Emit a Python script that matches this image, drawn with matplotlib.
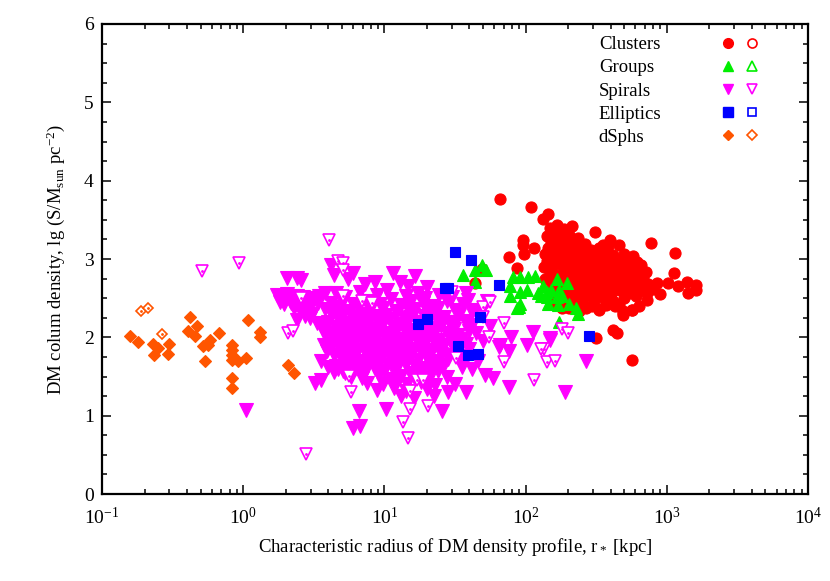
import numpy as np
import matplotlib
matplotlib.use("Agg")
import matplotlib.pyplot as plt
from matplotlib.lines import Line2D
from matplotlib.legend_handler import HandlerTuple
from matplotlib.ticker import MultipleLocator, LogLocator, NullFormatter

plt.rcParams['font.family'] = ['Liberation Serif', 'DejaVu Serif']
plt.rcParams['mathtext.fontset'] = 'custom'
plt.rcParams['mathtext.rm'] = 'Liberation Serif'
plt.rcParams['mathtext.it'] = 'Liberation Serif:italic'

# ---- data: lg(r*/kpc) and lg(S / Msun pc^-2) ----
# clusters (filled)
clu_lgr = [2.17, 2.22, 2.27, 2.33,
           2.15, 2.20, 2.26, 2.31, 2.37, 2.49,
           2.18, 2.24, 2.30, 2.36, 2.42, 2.55, 2.60,
           2.16, 2.21, 2.27, 2.34, 2.40, 2.46, 2.52, 2.58, 2.66,
           2.14, 2.19, 2.25, 2.31, 2.37, 2.43, 2.49, 2.55, 2.62, 2.70, 2.76,
           2.15, 2.22, 2.28, 2.34, 2.40, 2.47, 2.53, 2.59, 2.65, 2.72, 2.79,
           2.13, 2.19, 2.26, 2.32, 2.38, 2.44, 2.51, 2.57, 2.63, 2.69, 2.76, 2.82,
           2.17, 2.24, 2.30, 2.36, 2.42, 2.48, 2.54, 2.61, 2.67, 2.73, 2.79, 2.85,
           2.14, 2.21, 2.28, 2.34, 2.40, 2.46, 2.52, 2.58, 2.64, 2.70, 2.77, 2.83,
           2.19, 2.26, 2.32, 2.38, 2.44, 2.50, 2.56, 2.62, 2.68, 2.74, 2.81, 2.87,
           2.23, 2.30, 2.37, 2.43, 2.49, 2.55, 2.61, 2.67, 2.73, 2.80,
           2.27, 2.34, 2.41, 2.48, 2.55, 2.62, 2.70, 2.78,
           2.33, 2.40, 2.47, 2.57, 2.66,
           2.38, 2.52, 2.69, 2.75,
           1.82, 2.04, 2.16, 2.12, 1.98, 1.98, 2.06, 1.99, 1.88, 1.94, 1.69, 1.64,
           2.21, 2.20, 2.17, 2.34, 2.38, 2.31, 2.43, 2.26,
           2.50, 2.62, 2.65, 2.75,
           2.95, 3.01, 3.05, 3.08, 3.14, 3.21, 3.21, 3.15, 3.06, 2.89, 2.86, 2.86,
           2.90, 2.93, 2.80, 2.75, 2.69, 2.63, 2.57, 2.52, 2.69, 2.49]
clu_lgs = [3.40, 3.44, 3.38, 3.42,
           3.30, 3.33, 3.28, 3.31, 3.27, 3.35,
           3.22, 3.20, 3.24, 3.21, 3.19, 3.18, 3.24,
           3.14, 3.12, 3.16, 3.13, 3.15, 3.11, 3.14, 3.17, 3.18,
           3.06, 3.04, 3.08, 3.05, 3.07, 3.03, 3.06, 3.09, 3.05, 3.07, 3.04,
           2.98, 2.96, 3.00, 2.97, 2.99, 2.95, 2.98, 3.01, 2.97, 2.99, 2.96,
           2.90, 2.88, 2.92, 2.89, 2.91, 2.87, 2.90, 2.93, 2.89, 2.91, 2.88, 2.92,
           2.82, 2.80, 2.84, 2.81, 2.83, 2.79, 2.82, 2.85, 2.81, 2.83, 2.80, 2.84,
           2.74, 2.72, 2.76, 2.73, 2.75, 2.71, 2.74, 2.77, 2.73, 2.75, 2.72, 2.76,
           2.66, 2.64, 2.68, 2.65, 2.67, 2.63, 2.66, 2.69, 2.65, 2.67, 2.64, 2.68,
           2.58, 2.56, 2.60, 2.57, 2.59, 2.55, 2.58, 2.61, 2.57, 2.59,
           2.50, 2.48, 2.52, 2.49, 2.51, 2.47, 2.50, 2.53,
           2.42, 2.44, 2.40, 2.43, 2.41,
           2.34, 2.36, 2.33, 2.35,
           3.76, 3.66, 3.58, 3.51, 3.24, 3.18, 3.14, 3.06, 3.02, 2.88, 2.87, 2.70,
           2.50, 2.43, 2.50, 2.56, 2.63, 2.37, 2.37, 2.38,
           1.99, 2.09, 2.05, 1.71,
           2.55, 2.69, 2.82, 2.65, 2.71, 2.67, 2.60, 2.57, 3.08, 3.21, 2.48, 2.56,
           2.62, 2.70, 2.40, 2.35, 2.31, 2.40, 2.41, 2.35, 2.29, 2.49]

# groups (filled)
grp_lgr = [1.56, 1.64, 1.69, 1.72, 1.64, 1.91, 1.96, 2.02, 2.07, 1.89, 1.96,
           2.01, 1.89, 1.95, 2.09, 2.12, 2.11, 2.15, 2.18, 2.22, 2.29, 2.24,
           2.26, 2.22, 2.15, 2.16, 2.23, 2.31, 2.36, 2.37, 2.24, 1.94, 1.96]
grp_lgs = [2.80, 2.86, 2.92, 2.86, 2.71, 2.77, 2.77, 2.77, 2.78, 2.65, 2.58,
           2.60, 2.53, 2.39, 2.56, 2.65, 2.53, 2.58, 2.60, 2.74, 2.70, 2.61,
           2.53, 2.51, 2.52, 2.43, 2.41, 2.43, 2.37, 2.30, 2.20, 2.37, 2.43]

# spirals (filled)
spi_lgr = [0.66, 0.72, 0.83, 0.95, 1.02, 1.15, 1.24, 1.29, 1.39, 1.48,
           0.62, 0.70, 0.78, 0.88, 0.97, 1.05, 1.12, 1.19, 1.27, 1.33, 1.44, 1.56,
           0.58, 0.66, 0.75, 0.81, 0.90, 0.99, 1.08, 1.16, 1.22, 1.31, 1.38, 1.50, 1.62,
           0.63, 0.71, 0.77, 0.86, 0.93, 1.01, 1.09, 1.14, 1.20, 1.28, 1.35, 1.42, 1.53,
           0.60, 0.68, 0.74, 0.82, 0.89, 0.96, 1.04, 1.11, 1.17, 1.24, 1.30, 1.37, 1.46, 1.57,
           0.65, 0.72, 0.79, 0.85, 0.92, 0.98, 1.06, 1.13, 1.19, 1.26, 1.33, 1.40, 1.49,
           0.62, 0.69, 0.76, 0.83, 0.90, 0.95, 1.02, 1.08, 1.15, 1.22, 1.29, 1.36, 1.44, 1.52, 1.60,
           0.66, 0.73, 0.80, 0.87, 0.93, 1.00, 1.05, 1.12, 1.18, 1.25, 1.31, 1.39, 1.47, 1.55,
           0.63, 0.70, 0.78, 0.84, 0.91, 0.97, 1.03, 1.10, 1.16, 1.23, 1.28, 1.35, 1.42, 1.50, 1.58,
           0.68, 0.75, 0.81, 0.88, 0.94, 1.01, 1.07, 1.14, 1.21, 1.27, 1.34, 1.41, 1.49,
           0.64, 0.72, 0.79, 0.86, 0.92, 0.99, 1.06, 1.12, 1.19, 1.26, 1.32, 1.40, 1.46, 1.54,
           0.70, 0.77, 0.83, 0.90, 0.97, 1.04, 1.10, 1.17, 1.24, 1.30, 1.37, 1.45,
           0.66, 0.74, 0.82, 0.88, 0.95, 1.02, 1.09, 1.15, 1.22, 1.33, 1.42,
           0.71, 0.79, 0.86, 0.93, 1.00, 1.08, 1.18, 1.27, 1.38,
           0.76, 0.84, 0.96, 1.05, 1.12, 1.21, 1.30, 1.44,
           0.88, 0.99, 1.09, 1.16, 1.26, 1.36,
           0.95, 1.07, 1.15, 1.30, 1.12, 1.21,
           0.24, 0.28, 0.31, 0.35, 0.38, 0.42, 0.46, 0.50, 0.54, 0.58, 0.31, 0.38,
           0.41, 0.29, 0.36, 0.40, 0.45, 0.49, 0.38, 0.44, 0.47, 0.52, 0.56, 0.58,
           0.57, 0.59, 0.55, 0.60, 0.64, 0.67, 0.72, 0.51, 0.55, 0.02,
           0.62, 0.64, 0.74, 0.78, 0.86, 0.93, 1.06, 1.11, 1.22, 1.30, 1.17,
           0.82, 0.78, 0.83, 1.01, 1.41, 1.50, 1.45, 1.35, 1.58,
           1.58, 1.63, 1.73, 1.49, 1.62, 1.65, 1.70, 1.60, 1.66, 1.55, 1.62, 1.77,
           1.88, 1.71, 1.90, 1.82, 1.81, 1.88, 2.01, 2.05, 2.17, 2.17, 2.43, 2.28,
           1.68, 1.75, 1.59,
           0.69, 0.80, 0.91, 1.00, 1.09, 1.18, 1.27, 1.36,
           0.67, 0.77, 0.87, 0.97, 1.07, 1.17, 1.26, 1.35,
           0.72, 0.84, 0.95, 1.06, 1.16, 1.25, 1.34,
           0.34, 0.43, 0.48, 0.53, 0.26, 0.33]
spi_lgs = [2.57, 2.52, 2.58, 2.54, 2.60, 2.53, 2.56, 2.50, 2.54, 2.52,
           2.44, 2.48, 2.42, 2.47, 2.43, 2.49, 2.41, 2.46, 2.44, 2.40, 2.47, 2.42,
           2.36, 2.39, 2.34, 2.38, 2.35, 2.37, 2.33, 2.39, 2.36, 2.34, 2.38, 2.35, 2.32,
           2.28, 2.31, 2.26, 2.30, 2.27, 2.29, 2.32, 2.25, 2.29, 2.27, 2.30, 2.26, 2.28,
           2.20, 2.22, 2.18, 2.23, 2.19, 2.21, 2.24, 2.17, 2.22, 2.20, 2.18, 2.23, 2.19, 2.21,
           2.13, 2.15, 2.12, 2.16, 2.11, 2.14, 2.13, 2.16, 2.10, 2.14, 2.12, 2.15, 2.11,
           2.06, 2.08, 2.05, 2.09, 2.04, 2.07, 2.06, 2.09, 2.05, 2.08, 2.04, 2.07, 2.06, 2.03, 2.08,
           1.99, 2.01, 1.98, 2.02, 1.97, 2.00, 2.03, 1.98, 2.01, 1.99, 2.02, 1.97, 2.00, 1.98,
           1.92, 1.94, 1.91, 1.95, 1.92, 1.90, 1.94, 1.93, 1.91, 1.95, 1.92, 1.94, 1.90, 1.93, 1.91,
           1.85, 1.87, 1.84, 1.88, 1.85, 1.86, 1.83, 1.87, 1.85, 1.88, 1.84, 1.86, 1.85,
           1.78, 1.80, 1.77, 1.81, 1.78, 1.79, 1.76, 1.80, 1.78, 1.81, 1.77, 1.79, 1.78, 1.76,
           1.71, 1.73, 1.70, 1.74, 1.71, 1.72, 1.69, 1.73, 1.71, 1.74, 1.70, 1.72,
           1.64, 1.66, 1.63, 1.67, 1.64, 1.65, 1.62, 1.66, 1.64, 1.63, 1.65,
           1.57, 1.59, 1.56, 1.60, 1.57, 1.58, 1.55, 1.59, 1.57,
           1.50, 1.48, 1.52, 1.47, 1.51, 1.49, 1.48, 1.50,
           1.42, 1.40, 1.44, 1.41, 1.43, 1.39,
           1.33, 1.35, 1.31, 1.34, 1.25, 1.22,
           2.54, 2.52, 2.55, 2.50, 2.53, 2.51, 2.47, 2.50, 2.53, 2.56, 2.76, 2.76,
           2.73, 2.42, 2.38, 2.35, 2.33, 2.30, 2.22, 2.27, 2.25, 2.18, 2.13, 2.03,
           1.90, 1.82, 1.70, 1.62, 1.56, 1.60, 1.55, 1.42, 1.46, 1.07,
           2.92, 2.80, 2.75, 2.82, 2.68, 2.71, 2.82, 2.71, 2.78, 2.64, 2.66,
           1.06, 0.84, 0.87, 1.08, 1.06, 1.40, 1.30, 1.25, 1.30,
           2.56, 2.35, 2.47, 2.20, 2.16, 2.05, 1.95, 1.85, 1.70, 1.62, 1.60, 1.48,
           1.37, 1.52, 2.01, 1.90, 1.88, 1.82, 1.90, 2.07, 1.97, 1.99, 1.70, 1.30,
           2.30, 2.15, 2.48,
           2.25, 2.17, 2.10, 2.24, 2.12, 2.26, 2.16, 2.09,
           1.96, 1.89, 1.97, 1.82, 1.95, 1.83, 1.89, 1.97,
           1.68, 1.61, 1.69, 1.60, 1.69, 1.61, 1.54,
           2.44, 2.43, 2.40, 2.44, 2.45, 2.47]

# spirals (open)
spo_lgr = [-0.29, -0.03, 0.445, 0.61, 0.67, 0.71, 0.71, 0.71, 0.41, 0.84, 0.91,
           0.32, 0.355, 0.75, 0.76, 1.23, 1.27, 1.18, 1.18, 1.31, 1.13, 1.17,
           1.48, 1.70, 1.75, 1.85, 1.74, 1.70, 2.13, 2.15, 2.21, 1.85, 2.06,
           1.51, 2.11, 2.26, 2.30]
spo_lgs = [2.85, 2.95, 0.51, 3.24, 2.98, 2.95, 2.86, 2.53, 2.50, 2.47, 2.44,
           2.05, 2.08, 1.51, 1.30, 1.46, 1.46, 1.31, 1.09, 1.13, 0.92, 0.72,
           2.58, 2.39, 2.45, 2.18, 2.01, 2.26, 1.85, 1.69, 1.70, 1.69, 1.46,
           1.73, 1.85, 2.11, 2.06]

# elliptics (filled)
ell_lgr = [1.50, 1.61, 1.45, 1.43, 1.81, 1.68, 1.30, 1.24, 1.52, 1.59, 1.66, 2.45]
ell_lgs = [3.09, 2.99, 2.63, 2.63, 2.67, 2.26, 2.23, 2.17, 1.89, 1.77, 1.79, 2.02]

# dwarf spheroidals (filled / open)
dsp_lgr = [-0.80, -0.747, -0.637, -0.60, -0.632, -0.523, -0.53, -0.377, -0.393,
           -0.33, -0.341, -0.282, -0.235, -0.247, -0.27, -0.17, -0.081, -0.081,
           -0.081, -0.081, -0.035, 0.02, -0.077, -0.077, 0.036, 0.12, 0.12,
           0.315, 0.36]
dsp_lgs = [2.02, 1.94, 1.92, 1.87, 1.77, 1.91, 1.79, 2.26, 2.08, 2.14, 2.02,
           1.89, 1.97, 1.90, 1.70, 2.05, 1.90, 1.84, 1.77, 1.71, 1.70, 1.73,
           1.48, 1.35, 2.22, 2.07, 2.00, 1.65, 1.55]
dso_lgr = [-0.724, -0.672, -0.577]
dso_lgs = [2.34, 2.38, 2.04]

names = ["Clusters", "Groups", "Spirals", "Elliptics", "dSphs"]
colors = ["#ff0000", "#00ee00", "#ff00ff", "#0000ff", "#ff5500"]
markers = ["o", "^", "v", "s", "D"]
sizes = [8.0, 8.5, 9.5, 7.0, 6.3]
leg_sizes = [7.0, 7.0, 7.0, 6.5, 5.5]

fig = plt.figure(figsize=(8.3, 5.81), dpi=100)
ax = fig.add_axes([0.1229, 0.1497, 0.8506, 0.809])


def filled(lgr, lgs, i):
    ax.plot(np.power(10.0, lgr), lgs, linestyle="none", marker=markers[i],
            markersize=sizes[i], color=colors[i], markeredgewidth=0.8)


def opened(lgr, lgs, i):
    ax.plot(np.power(10.0, lgr), lgs, linestyle="none", marker=markers[i],
            markersize=sizes[i] - 1.5, markerfacecolor="white",
            markeredgecolor=colors[i], markeredgewidth=1.2)
    ax.plot(np.power(10.0, lgr), lgs, linestyle="none", marker=".",
            markersize=2, color=colors[i])


filled(clu_lgr, clu_lgs, 0)
filled(grp_lgr, grp_lgs, 1)
filled(spi_lgr, spi_lgs, 2)
opened(spo_lgr, spo_lgs, 2)
filled(ell_lgr, ell_lgs, 3)
filled(dsp_lgr, dsp_lgs, 4)
opened(dso_lgr, dso_lgs, 4)

ax.set_xscale("log")
ax.set_xlim(0.1, 1e4)
ax.set_ylim(0, 6)
ax.yaxis.set_major_locator(MultipleLocator(1))
ax.yaxis.set_minor_locator(MultipleLocator(0.25))
ax.xaxis.set_major_locator(LogLocator(base=10, numticks=10))
ax.xaxis.set_minor_locator(LogLocator(base=10, subs=np.arange(2, 10), numticks=10))
ax.xaxis.set_minor_formatter(NullFormatter())
ax.tick_params(which="both", direction="in", top=True, right=True, width=1.1,
               labelsize=14, colors="black")
ax.tick_params(which="major", length=6.5, pad=6)
ax.tick_params(axis="x", which="major", pad=9)
ax.tick_params(which="minor", length=3.5)
for s in ax.spines.values():
    s.set_linewidth(1.6)

ax.set_xlabel(r"Characteristic radius of DM density profile, r$_*$ [kpc]", fontsize=13.5, labelpad=6)
ax.set_ylabel(r"DM colum density, lg (S/M$_{\rm sun}$ pc$^{-2}$)", fontsize=13.5, labelpad=12)

# legend: labels on the left, filled/open symbols on the right
text_handles = [Line2D([], [], linestyle="none") for _ in names]
leg1 = ax.legend(text_handles, names, loc="upper left", bbox_to_anchor=(0.693, 0.99),
                 frameon=False, handlelength=0, handletextpad=0, fontsize=13.5,
                 labelspacing=0.32, borderaxespad=0)
ax.add_artist(leg1)
pairs = []
for i in range(5):
    f = Line2D([], [], linestyle="none", marker=markers[i], markersize=leg_sizes[i],
               color=colors[i])
    o = Line2D([], [], linestyle="none", marker=markers[i], markersize=leg_sizes[i] - 0.5,
               markerfacecolor="white", markeredgecolor=colors[i], markeredgewidth=1.2)
    pairs.append((f, o))
leg2 = ax.legend(pairs, [""] * 5, loc="upper left", bbox_to_anchor=(0.86, 0.99),
                 frameon=False, handler_map={tuple: HandlerTuple(ndivide=None, pad=0)},
                 handlelength=2.5, handletextpad=0, fontsize=13.5, labelspacing=0.32,
                 borderaxespad=0)

fig.savefig("out.png", dpi=100)
